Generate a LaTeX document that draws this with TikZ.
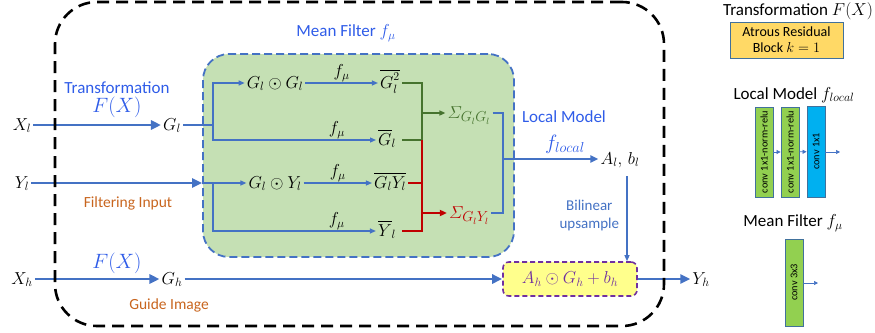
\documentclass[tikz,border=0pt]{standalone}
\usepackage{amsmath}
\usepackage{fontspec}
\setmainfont{Carlito}
\usepackage{xcolor}
\usepackage{tikz}
\usetikzlibrary{arrows.meta,positioning,calc}
\definecolor{arrowblue}{HTML}{4472C4}
\definecolor{textblue}{HTML}{2F5CE8}
\definecolor{orangetxt}{HTML}{C8651E}
\definecolor{meanfill}{HTML}{C5E0B4}
\definecolor{darkgreen}{HTML}{46732E}
\definecolor{sumred}{HTML}{C00000}
\definecolor{combfill}{HTML}{FFFF8C}
\definecolor{combpurple}{HTML}{7030A0}
\definecolor{goldfill}{HTML}{FFD966}
\definecolor{barborder}{HTML}{41719C}
\definecolor{bargreen}{HTML}{92D050}
\definecolor{barblue}{HTML}{00B0F0}
\tikzset{
  mnode/.style={font=\fontsize{18}{21}\selectfont, inner sep=2pt,
    text height=13pt, text depth=3pt},
  bluelbl/.style={font=\fontsize{17}{20}\selectfont, text=textblue, inner sep=1pt},
  bluemath/.style={font=\fontsize{19.5}{22}\selectfont, text=textblue, inner sep=1pt},
  orangelbl/.style={font=\fontsize{15.5}{18}\selectfont, text=orangetxt, inner sep=1pt},
  flbl/.style={font=\fontsize{18}{21}\selectfont, above, inner sep=1pt, text=black},
  legtitle/.style={font=\fontsize{17}{20}\selectfont, inner sep=1pt},
  outerbox/.style={draw=black, dash pattern=on 12pt off 7pt, line width=2.6pt,
    rounded corners=42pt},
  meanbox/.style={draw=arrowblue, fill=meanfill, dash pattern=on 8pt off 4pt,
    line width=1.8pt, rounded corners=26pt},
  combnode/.style={draw=combpurple, fill=combfill, dash pattern=on 5pt off 3pt,
    line width=1.6pt, rounded corners=6pt, text=combpurple,
    font=\fontsize{18}{21}\selectfont},
  goldbox/.style={draw=barborder, fill=goldfill, line width=0.8pt, align=center,
    font=\fontsize{14}{16}\selectfont},
  bar/.style={draw=barborder, fill=#1, line width=0.8pt, rotate=90,
    minimum width=90pt, minimum height=18pt, inner sep=1pt,
    font=\fontsize{10.3}{12}\selectfont},
  fatarrow/.style={-{Triangle[length=10pt,width=9pt]}, line width=2.6pt, color=arrowblue},
  midarrow/.style={-{Triangle[length=8pt,width=7pt]}, line width=2pt, color=arrowblue},
  midline/.style={line width=2pt, color=arrowblue},
  arrow/.style={-{Triangle[length=6pt,width=5pt]}, line width=1.2pt, color=arrowblue},
  tinyarrow/.style={-{Triangle[length=4pt,width=4pt]}, line width=0.7pt, color=arrowblue},
  gline/.style={line width=1.4pt, color=darkgreen},
  garrow/.style={-{Triangle[length=6pt,width=5pt]}, line width=1.4pt, color=darkgreen},
  rline/.style={line width=1.4pt, color=sumred},
  rarrow/.style={-{Triangle[length=7pt,width=6pt]}, line width=2pt, color=sumred},
}
\begin{document}
\begin{tikzpicture}[x=1pt, y=-1pt]
  \useasboundingbox (0,0) rectangle (875,332);

  \node[meanbox, minimum width=311pt, minimum height=203pt] (meanbox) at (358.5,155.5) {};
  \node[bluelbl] (mflbl) at (346,33) {Mean Filter $f_\mu$};

  \node[mnode] (xl) at (22,125) {$X_l$};
  \node[mnode] (gl) at (172,125) {$G_l$};
  \node[mnode] (yl) at (22,183) {$Y_l$};
  \node[mnode] (xh) at (22,279) {$X_h$};
  \node[mnode] (gh) at (172,279) {$G_h$};

  \node[bluemath] (fx1) at (117,107) {$F(X)$};
  \node[bluelbl, above=1pt of fx1] (trlbl) {Transformation};
  \node[bluemath] (fx2) at (117,263) {$F(X)$};
  \node[orangelbl] (filt) at (128,203) {Filtering Input};
  \node[orangelbl] (guide) at (169,305) {Guide Image};

  \node[mnode] (gg) at (275,83) {$G_l\odot G_l$};
  \node[mnode] (ggbar) at (390,83) {$\overline{G_l^{\raisebox{2pt}{$\scriptstyle 2$}}}$};
  \node[mnode] (gbar) at (387,140) {$\overline{G}_l$};
  \node[mnode] (gy) at (275,183) {$G_l\odot Y_l$};
  \node[mnode] (gybar) at (390,183) {$\overline{G_lY_l}$};
  \node[mnode] (ybar) at (387,231) {$\overline{Y}_l$};

  \node[mnode, font=\fontsize{19}{22}\selectfont, text=darkgreen] (sgg) at (469,113) {$\varSigma_{G_lG_l}$};
  \node[mnode, font=\fontsize{19}{22}\selectfont, text=sumred] (sgy) at (469,213) {$\varSigma_{G_lY_l}$};

  \node[mnode] (albl) at (620,159) {$A_l,\, b_l$};
  \node[bluelbl] (lmlbl) at (564,117) {Local Model};
  \node[bluemath] (flocal) at (565,144) {$f_{local}$};

  \node[combnode, minimum width=134pt, minimum height=34pt] (comb) at (570,279) {$A_h\odot G_h+b_h$};
  \node[mnode] (yh) at (701,279) {$Y_h$};

  \coordinate (br1) at (213,125);
  \coordinate (br2) at (213,183);
  \coordinate (jg) at (422,113);
  \coordinate (jr) at (422,213);
  \coordinate (jb) at (503,159);

  \draw[fatarrow] (xl) -- (gl);
  \draw[arrow] (gl.east) -- (br1) |- (gg.west);
  \draw[arrow] (br1) |- (gbar.west) node[flbl, pos=0.88] {$f_\mu$};
  \draw[fatarrow] (yl) -- (meanbox.west |- yl);
  \draw[arrow] (meanbox.west |- yl) -- (gy.west);
  \draw[arrow] (br2) |- (ybar.west) node[flbl, pos=0.88] {$f_\mu$};
  \draw[arrow] (gg.east) -- node[flbl] {$f_\mu$} (ggbar.west);
  \draw[arrow] (gy.east) -- node[flbl] {$f_\mu$} (gybar.west);

  \draw[gline] (ggbar.east) -| (jg) |- (gbar.east -| ggbar.east);
  \draw[garrow] (jg) -- (sgg.west);
  \draw[rline] (jg |- gbar) -- (jg |- ybar) -- (ybar.east -| ggbar.east);
  \draw[rline] (gybar.east) -- (jg |- gybar);
  \draw[rarrow] (jr) -- (sgy.west);

  \draw[midline] (sgg.east) -| (jb) |- (sgy.east);
  \draw[midarrow] (jb) -- (albl.west);
  \draw[arrow, shorten <=7pt] ([xshift=7pt]albl.south) -- ([xshift=7pt]albl.south |- comb.north)
    node[midway, left=4pt, align=center, font=\fontsize{15}{18}\selectfont] {Bilinear\\upsample};

  \draw[fatarrow] (xh) -- (gh);
  \draw[fatarrow] (gh) -- (comb);
  \draw[fatarrow] (comb) -- (yh);

  \node[outerbox, minimum width=609pt, minimum height=324pt] (frame) at (359.5,164) {};

  \node[legtitle] (trleg) at (798,11) {Transformation $F(X)$};
  \node[goldbox, minimum width=113pt, minimum height=36pt] (arb) at (786.5,40) {Atrous Residual\\Block $k=1$};

  \node[legtitle] (lmleg) at (794,95) {Local Model $f_{local}$};
  \node[bar=bargreen] (cb1) at (764,152) {conv 1x1-norm-relu};
  \node[bar=bargreen] (cb2) at (790,152) {conv 1x1-norm-relu};
  \node[bar=barblue, minimum width=91pt] (cb3) at (816,151.5) {conv 1x1};
  \coordinate (lmout) at (840,152);
  \draw[tinyarrow] (cb1) -- (cb2);
  \draw[tinyarrow] (cb2) -- (cb3);
  \draw[tinyarrow] (cb3.south |- lmout) -- (lmout);

  \node[legtitle] (mfleg) at (793,223) {Mean Filter $f_\mu$};
  \node[bar=bargreen, minimum width=87pt] (cb4) at (794,282.5) {conv 3x3};
  \coordinate (mfout) at (818,283);
  \draw[tinyarrow] (cb4.south |- mfout) -- (mfout);

\end{tikzpicture}
\end{document}
